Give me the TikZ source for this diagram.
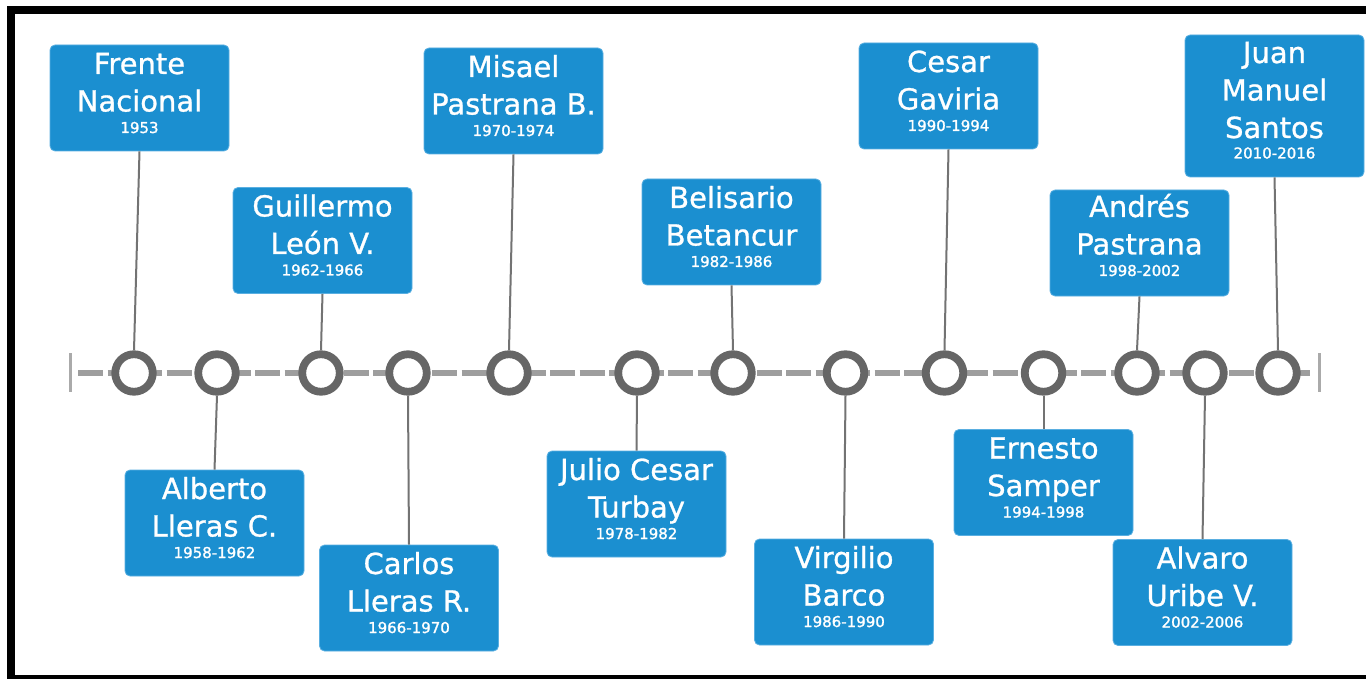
\documentclass[tikz,border=0pt]{standalone}
\usepackage{fontspec}
\setmainfont{DejaVu Sans}
\newfontface\namefont[FakeBold=0.9]{DejaVu Sans}
\newfontface\yearfont[FakeBold=1.4]{DejaVu Sans}
\definecolor{boxblue}{RGB}{27,143,208}
\definecolor{boxedge}{RGB}{90,175,225}
\definecolor{ringgray}{RGB}{102,102,102}
\definecolor{linegray}{RGB}{158,158,158}
\definecolor{tickgray}{RGB}{170,170,170}
\definecolor{conngray}{RGB}{115,115,115}
\tikzset{
  pbox/.style={rectangle, rounded corners=5pt, fill=boxblue, draw=boxedge, line width=0.8pt,
    minimum width=179pt, minimum height=106pt, inner sep=0pt},
  tallbox/.style={pbox, minimum height=142pt},
  ptext/.style={anchor=north, inner sep=0pt, text=white, align=center,
    font=\namefont\fontsize{29}{37.5}\selectfont},
  ring/.style={circle, draw=ringgray, line width=7.8pt, fill=white, minimum size=37.5pt, inner sep=0pt},
  conn/.style={draw=conngray, line width=2pt},
  tline/.style={draw=linegray, line width=6pt, dash pattern=on 25pt off 4.5pt},
  tlend/.style={draw=tickgray, line width=3pt},
  frame/.style={fill=black},
}
\newcommand{\yr}[1]{{\yearfont\fontsize{15}{18}\selectfont #1}}
\newcommand{\fl}[1]{\rule{0pt}{21.2pt}\smash{#1}}
\begin{document}
\begin{tikzpicture}[x=1pt,y=-1pt]
\useasboundingbox (0,0) rectangle (1366,679);
\fill[white] (0,0) rectangle (1366,679);
% frame
\fill[frame] (7,6) rectangle (1366,14);
\fill[frame] (7,6) rectangle (15,679);
\fill[frame] (7,675) rectangle (1366,679);
% timeline
\coordinate (tls) at (78,373);
\coordinate (tle) at (1310,373);
\coordinate (tka) at (70,353);
\coordinate (tkb) at (70,392);
\coordinate (tkc) at (1319,353);
\coordinate (tkd) at (1319,392);
\draw[tline] (tls) -- (tle);
\draw[tlend] (tka) -- (tkb);
\draw[tlend] (tkc) -- (tkd);
% boxes
\node[pbox] (b1) at (139.5,98) {};
\node[pbox] (b2) at (214.5,523) {};
\node[pbox] (b3) at (322.5,240.5) {};
\node[pbox] (b4) at (409,598) {};
\node[pbox] (b5) at (513.5,101) {};
\node[pbox] (b6) at (636.5,504) {};
\node[pbox] (b7) at (731.5,232) {};
\node[pbox] (b8) at (844,592) {};
\node[pbox] (b9) at (948.5,96) {};
\node[pbox] (b10) at (1043.5,482.5) {};
\node[pbox] (b11) at (1139.5,243) {};
\node[pbox] (b12) at (1202.5,592.5) {};
\node[tallbox] (b13) at (1274.5,106) {};
% circles
\node[ring] (c1) at (134,373) {};
\node[ring] (c2) at (217,373) {};
\node[ring] (c3) at (321,373) {};
\node[ring] (c4) at (408,373) {};
\node[ring] (c5) at (509,373) {};
\node[ring] (c6) at (637,373) {};
\node[ring] (c7) at (733,373) {};
\node[ring] (c8) at (845.5,373) {};
\node[ring] (c9) at (944.5,373) {};
\node[ring] (c10) at (1043.5,373) {};
\node[ring] (c11) at (1137,373) {};
\node[ring] (c12) at (1205,373) {};
\node[ring] (c13) at (1278,373) {};
% connectors
\draw[conn] (b1.south) -- (c1.north);
\draw[conn] (c2.south) -- (b2.north);
\draw[conn] (b3.south) -- (c3.north);
\draw[conn] (c4.south) -- (b4.north);
\draw[conn] (b5.south) -- (c5.north);
\draw[conn] (c6.south) -- (b6.north);
\draw[conn] (b7.south) -- (c7.north);
\draw[conn] (c8.south) -- (b8.north);
\draw[conn] (b9.south) -- (c9.north);
\draw[conn] (c10.south) -- (b10.north);
\draw[conn] (b11.south) -- (c11.north);
\draw[conn] (c12.south) -- (b12.north);
\draw[conn] (b13.south) -- (c13.north);
% texts
\node[ptext] (t1) at ([yshift=-8pt]b1.north) {\fl{Frente}\\Nacional\\[-16pt]\yr{1953}};
\node[ptext] (t2) at ([yshift=-8pt]b2.north) {\fl{Alberto}\\Lleras C.\\[-16pt]\yr{1958-1962}};
\node[ptext] (t3) at ([yshift=-8pt]b3.north) {\fl{Guillermo}\\León V.\\[-16pt]\yr{1962-1966}};
\node[ptext] (t4) at ([yshift=-8pt]b4.north) {\fl{Carlos}\\Lleras R.\\[-16pt]\yr{1966-1970}};
\node[ptext] (t5) at ([yshift=-8pt]b5.north) {\fl{Misael}\\Pastrana B.\\[-16pt]\yr{1970-1974}};
\node[ptext] (t6) at ([yshift=-8pt]b6.north) {\fl{Julio Cesar}\\Turbay\\[-16pt]\yr{1978-1982}};
\node[ptext] (t7) at ([yshift=-8pt]b7.north) {\fl{Belisario}\\Betancur\\[-16pt]\yr{1982-1986}};
\node[ptext] (t8) at ([yshift=-8pt]b8.north) {\fl{Virgilio}\\Barco\\[-16pt]\yr{1986-1990}};
\node[ptext] (t9) at ([yshift=-8pt]b9.north) {\fl{Cesar}\\Gaviria\\[-16pt]\yr{1990-1994}};
\node[ptext] (t10) at ([yshift=-8pt]b10.north) {\fl{Ernesto}\\Samper\\[-16pt]\yr{1994-1998}};
\node[ptext] (t11) at ([yshift=-6pt]b11.north) {\fl{Andrés}\\Pastrana\\[-16pt]\yr{1998-2002}};
\node[ptext] (t12) at ([yshift=-8pt]b12.north) {\fl{Alvaro}\\Uribe V.\\[-16pt]\yr{2002-2006}};
\node[ptext] (t13) at ([yshift=-7pt]b13.north) {\fl{Juan}\\Manuel\\Santos\\[-17pt]\yr{2010-2016}};
\end{tikzpicture}
\end{document}
